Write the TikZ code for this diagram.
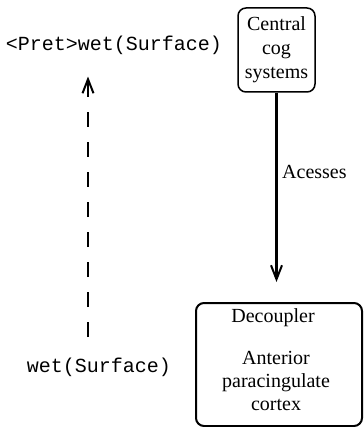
\documentclass[tikz,border=0pt]{standalone}
\usepackage{fontspec}
\setmainfont{Liberation Serif}
\setmonofont{Liberation Mono}
\usetikzlibrary{arrows.meta}

\begin{document}
\begin{tikzpicture}[x=1pt,y=-1pt,
	box/.style={draw, rounded corners=8, line width=1.5pt},
	txt/.style={font=\fontsize{20}{24}\selectfont, align=center, inner sep=0pt},
	code/.style={font=\ttfamily\fontsize{20}{24}\selectfont, inner sep=0pt},
	barb/.style={-{Straight Barb[length=14pt,width=11pt,line width=2pt]}}]
	\useasboundingbox (0,0) rectangle (363,427);
			
			\node(cog) [box, minimum width=77, minimum height=84] at (276.5,50){};
			\node(cogtxt) [txt] at (276.5,50){Central\\cog\\systems};
			\node(dec) [box, line width=2pt, minimum width=166, minimum height=123] at (279,364.5){};
			\node(dectitle) [txt] at (273,318){Decoupler};
			\node(apc) [txt] at (276,381){Anterior\\[-1pt]paracingulate\\[-1pt]cortex};
			
			\draw[barb, line width=2.6pt, shorten >=20pt] (cog.south) -- (cog.south |- dec.north);
			\node(acc) [txt, anchor=west] at (282,172){Acesses};
			
			\node(pret) [code] at (114,45){<Pret>wet(Surface)};
			\node(wet) [code] at (99,367){wet(Surface)};
			\coordinate(dstart) at (88,337);
			\draw[barb, line width=2.4pt, dash pattern=on 15pt off 15pt, shorten >=22pt] (dstart) -- (pret.south -| dstart);
			
		\end{tikzpicture}
\end{document}
